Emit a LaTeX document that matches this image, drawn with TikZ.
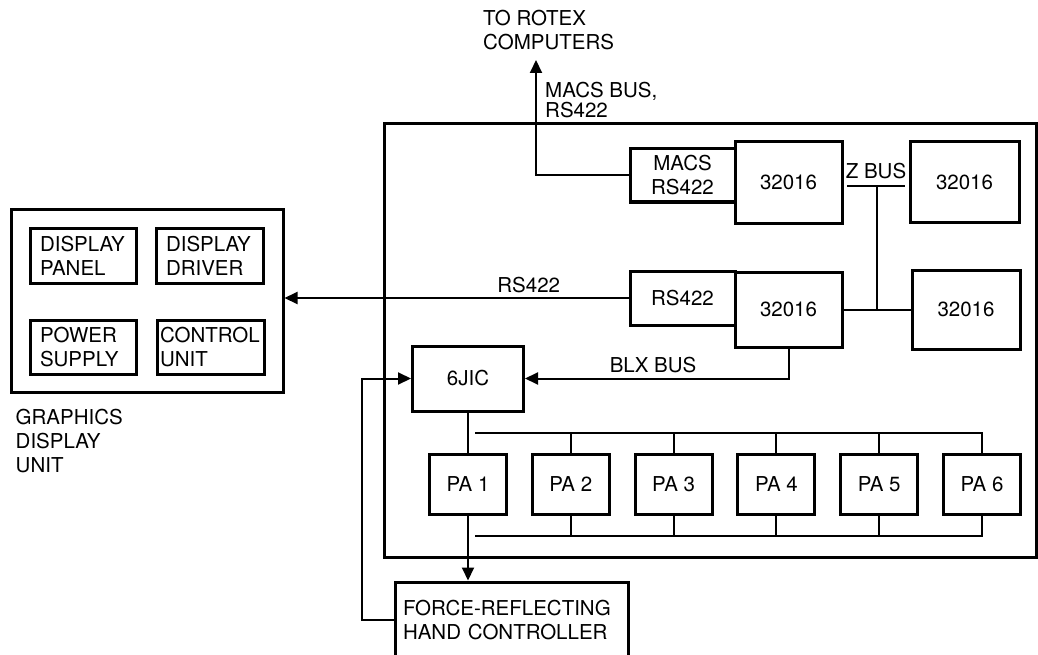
\documentclass[tikz,border=0pt]{standalone}
\usepackage{fontspec}
\setmainfont{TeX Gyre Heros}
\usepackage{tikz}
\usetikzlibrary{positioning, arrows.meta, calc}

\begin{document}
\begin{tikzpicture}[
        x=1pt, y=-1pt,
        block/.style={draw=black, line width=3pt, rectangle, inner sep=0pt, align=center, font=\fontsize{20.5}{24}\selectfont},
        unit/.style={block, align=left, inner xsep=10pt, text width=86pt, minimum height=55pt},
        pa/.style={block, minimum width=77pt, minimum height=60pt},
        edge/.style={line width=2pt},
        arr/.style={edge, -{Triangle[length=13pt, width=12pt]}},
        varlabel/.style={inner sep=0pt, align=left, font=\fontsize{20.5}{24}\selectfont}
    ]
        \useasboundingbox (0,0) rectangle (1038,655);

        % Knoten
        \node[block, minimum width=272pt, minimum height=183pt] (gdu) at (147,300.5) {};
        \node[unit] (panel) at (83,256) {DISPLAY\\PANEL};
        \node[unit, text width=87pt] (driver) at (209.5,256) {DISPLAY\\DRIVER};
        \node[unit, minimum height=54pt] (supply) at (83,347) {POWER\\SUPPLY};
        \node[unit, minimum height=54pt, inner xsep=3pt, text width=101pt] (ctrl) at (210.5,347) {CONTROL\\UNIT};
        \node[varlabel, below right=15pt and 6pt of gdu.south west] (gdulabel) {GRAPHICS\\DISPLAY\\UNIT};

        \node[block, minimum width=652pt, minimum height=433pt] (rack) at (710,340.5) {};

        \node[varlabel, anchor=north west] (rotex) at (483,10) {TO ROTEX\\COMPUTERS};
        \node[varlabel, anchor=north west] (macsbus) at (545,82) {MACS BUS,\\[-4pt]RS422};

        \node[block, minimum width=105pt, minimum height=53pt] (macs) at (682.5,175.5) {MACS\\RS422};
        \node[block, minimum width=107pt, minimum height=81pt] (cpua) at (788.5,182.5) {32016};
        \node[block, minimum width=109pt, minimum height=80pt] (cpub) at (964.5,182) {32016};
        \node[block, minimum width=105pt, minimum height=54pt] (rs) at (682.5,298) {RS422};
        \node[block, minimum width=107pt, minimum height=75pt] (cpuc) at (788.5,309.5) {32016};
        \node[block, minimum width=108pt, minimum height=79pt] (cpud) at (966,309.5) {32016};

        \node[block, minimum width=111pt, minimum height=65pt] (jic) at (468,378.5) {6JIC};
        \foreach \i in {1,...,6}
            \node[pa] (pa\i) at ({468+102.8*(\i-1)},484) {PA \i};

        \node[unit, minimum width=233pt, text width=217pt, inner xsep=8pt, minimum height=76pt] (force) at (511.5,620) {FORCE-REFLECTING\\HAND CONTROLLER};

        \coordinate (up) at (536,60);
        \coordinate (zl) at (847,186);
        \coordinate (zr) at (905,186);
        \coordinate (ztap) at (877,186);
        \coordinate (loop) at (362,378.5);
        \coordinate (bt) at (475,433);
        \coordinate (bb) at (475,536);

        % Kanten
        \draw[arr] (macs.west) -| (up);
        \draw[arr] (rs.west) -- (rs.west -| gdu.east) node[pos=0.29, above=4pt, varlabel] {RS422};
        \draw[edge] (zl) -- (zr) node[midway, above=6pt, varlabel] {Z BUS};
        \draw[edge] (ztap) -- (ztap |- cpuc.east);
        \draw[edge] (cpuc.east) -- (cpud.west);
        \draw[arr] (cpuc.south) |- (jic.east) node[pos=0.757, above=5pt, varlabel] {BLX BUS};
        \draw[edge] (jic.south) -- (pa1.north);
        \draw[arr] (pa1.south) -- (pa1.south |- force.north);
        \draw[arr] (force.west) -| (loop) -- (jic.west);

        \draw[edge] (bt) -| (pa6.north);
        \draw[edge] (bb) -| (pa6.south);
        \foreach \i in {2,...,5} {
            \draw[edge] (pa\i.north) -- (pa\i.north |- bt);
            \draw[edge] (pa\i.south) -- (pa\i.south |- bb);
        }

    \end{tikzpicture}
\end{document}
